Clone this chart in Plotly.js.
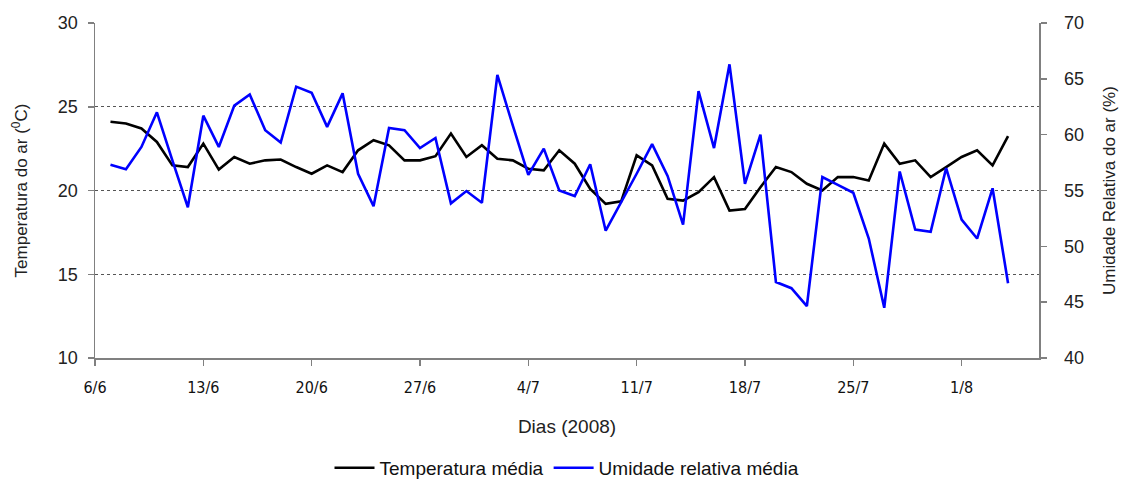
<!DOCTYPE html>
<html>
<head>
<meta charset="utf-8">
<script src="https://cdn.plot.ly/plotly-3.0.1.min.js"></script>
<style>html,body{margin:0;padding:0;background:#fff;}#chart{width:1129px;height:487px;}</style>
</head>
<body>
<div id="chart"></div>
<script>
var days = [
"2008-06-07","2008-06-08","2008-06-09","2008-06-10","2008-06-11","2008-06-12","2008-06-13","2008-06-14","2008-06-15","2008-06-16",
"2008-06-17","2008-06-18","2008-06-19","2008-06-20","2008-06-21","2008-06-22","2008-06-23","2008-06-24","2008-06-25","2008-06-26",
"2008-06-27","2008-06-28","2008-06-29","2008-06-30","2008-07-01","2008-07-02","2008-07-03","2008-07-04","2008-07-05","2008-07-06",
"2008-07-07","2008-07-08","2008-07-09","2008-07-10","2008-07-11","2008-07-12","2008-07-13","2008-07-14","2008-07-15","2008-07-16",
"2008-07-17","2008-07-18","2008-07-19","2008-07-20","2008-07-21","2008-07-22","2008-07-23","2008-07-24","2008-07-25","2008-07-26",
"2008-07-27","2008-07-28","2008-07-29","2008-07-30","2008-07-31","2008-08-01","2008-08-02","2008-08-03","2008-08-04"
];
var temperatura = [
24.1,24.0,23.7,22.9,21.5,21.4,22.8,21.25,22.0,21.6,
21.8,21.85,21.4,21.0,21.5,21.1,22.4,23.0,22.7,21.8,
21.8,22.05,23.4,22.0,22.7,21.9,21.8,21.3,21.2,22.4,
21.6,20.1,19.2,19.35,22.1,21.5,19.5,19.4,19.9,20.8,
18.8,18.9,20.2,21.4,21.1,20.4,20.0,20.8,20.8,20.6,
22.8,21.6,21.8,20.8,21.4,22.0,22.4,21.5,23.25
];
var umidade = [
57.3,56.9,58.9,62.0,57.7,53.5,61.7,58.9,62.6,63.6,
60.4,59.3,64.3,63.75,60.7,63.7,56.5,53.6,60.6,60.4,
58.8,59.7,53.85,54.95,53.9,65.35,60.8,56.4,58.75,55.0,
54.5,57.35,51.4,53.9,56.5,59.15,56.3,51.95,63.9,58.8,
66.3,55.6,60.0,46.8,46.25,44.65,56.2,55.5,54.8,50.7,
44.5,56.7,51.5,51.3,57.0,52.4,50.7,55.2,46.7
];
var tickDates = ["2008-06-06","2008-06-13","2008-06-20","2008-06-27","2008-07-04","2008-07-11","2008-07-18","2008-07-25","2008-08-01"];
var tickLabels = ["6/6","13/6","20/6","27/6","4/7","11/7","18/7","25/7","1/8"];

var traces = [
  {x: days, y: temperatura, type: 'scatter', mode: 'lines', name: 'Temperatura média',
   line: {color: '#000000', width: 2.6}, yaxis: 'y'},
  {x: days, y: umidade, type: 'scatter', mode: 'lines', name: 'Umidade relativa média',
   line: {color: '#0000FF', width: 2.6}, yaxis: 'y2'}
];

var sans = 'Liberation Sans, Arial, sans-serif';
var axFont = {family: sans, size: 18, color: '#222'};
var layout = {
  width: 1129, height: 487,
  margin: {l: 95, r: 90, t: 23, b: 129, autoexpand: false},
  paper_bgcolor: '#fff', plot_bgcolor: '#fff',
  showlegend: true,
  legend: {orientation: 'h', x: 0.5, xanchor: 'center', y: -0.328, yanchor: 'middle',
           font: {family: sans, size: 19, color: '#111'},
           itemwidth: 40, tracegroupgap: 0},
  xaxis: {
    type: 'date', range: ['2008-06-06', '2008-08-06'],
    tickvals: tickDates, ticktext: tickLabels,
    showgrid: false, zeroline: false,
    showline: true, linecolor: '#808080', linewidth: 1.5,
    ticks: 'outside', ticklen: 6, tickcolor: '#808080', tickwidth: 1.5,
    ticklabelstandoff: 8,
    tickfont: {family: 'Liberation Sans Narrow, DejaVu Sans Condensed, Arial Narrow, sans-serif', size: 16, color: '#111'},
    title: {text: 'Dias (2008)', font: {family: sans, size: 19, color: '#222'}, standoff: 24}
  },
  yaxis: {
    range: [10, 30], tickvals: [10, 15, 20, 25, 30],
    showgrid: true, gridcolor: '#555', griddash: 'dot', gridwidth: 1,
    zeroline: false, showline: true, linecolor: '#808080', linewidth: 1.5,
    ticks: 'outside', ticklen: 6, tickcolor: '#808080', tickwidth: 1.5,
    ticklabelstandoff: 6,
    tickfont: axFont,
    title: {text: 'Temperatura do ar (<sup>0</sup>C)', font: {family: sans, size: 17, color: '#222'}, standoff: 26}
  },
  yaxis2: {
    range: [40, 70], tickvals: [40, 45, 50, 55, 60, 65, 70],
    overlaying: 'y', side: 'right',
    showgrid: false, zeroline: false, showline: true, linecolor: '#808080', linewidth: 1.5,
    ticks: 'outside', ticklen: 6, tickcolor: '#808080', tickwidth: 1.5,
    ticklabelstandoff: 14,
    tickfont: axFont,
    title: {text: 'Umidade Relativa do ar (%)', font: {family: sans, size: 17, color: '#222'}, standoff: 20}
  }
};

Plotly.newPlot('chart', traces, layout, {displayModeBar: false, staticPlot: true});
</script>
</body>
</html>
